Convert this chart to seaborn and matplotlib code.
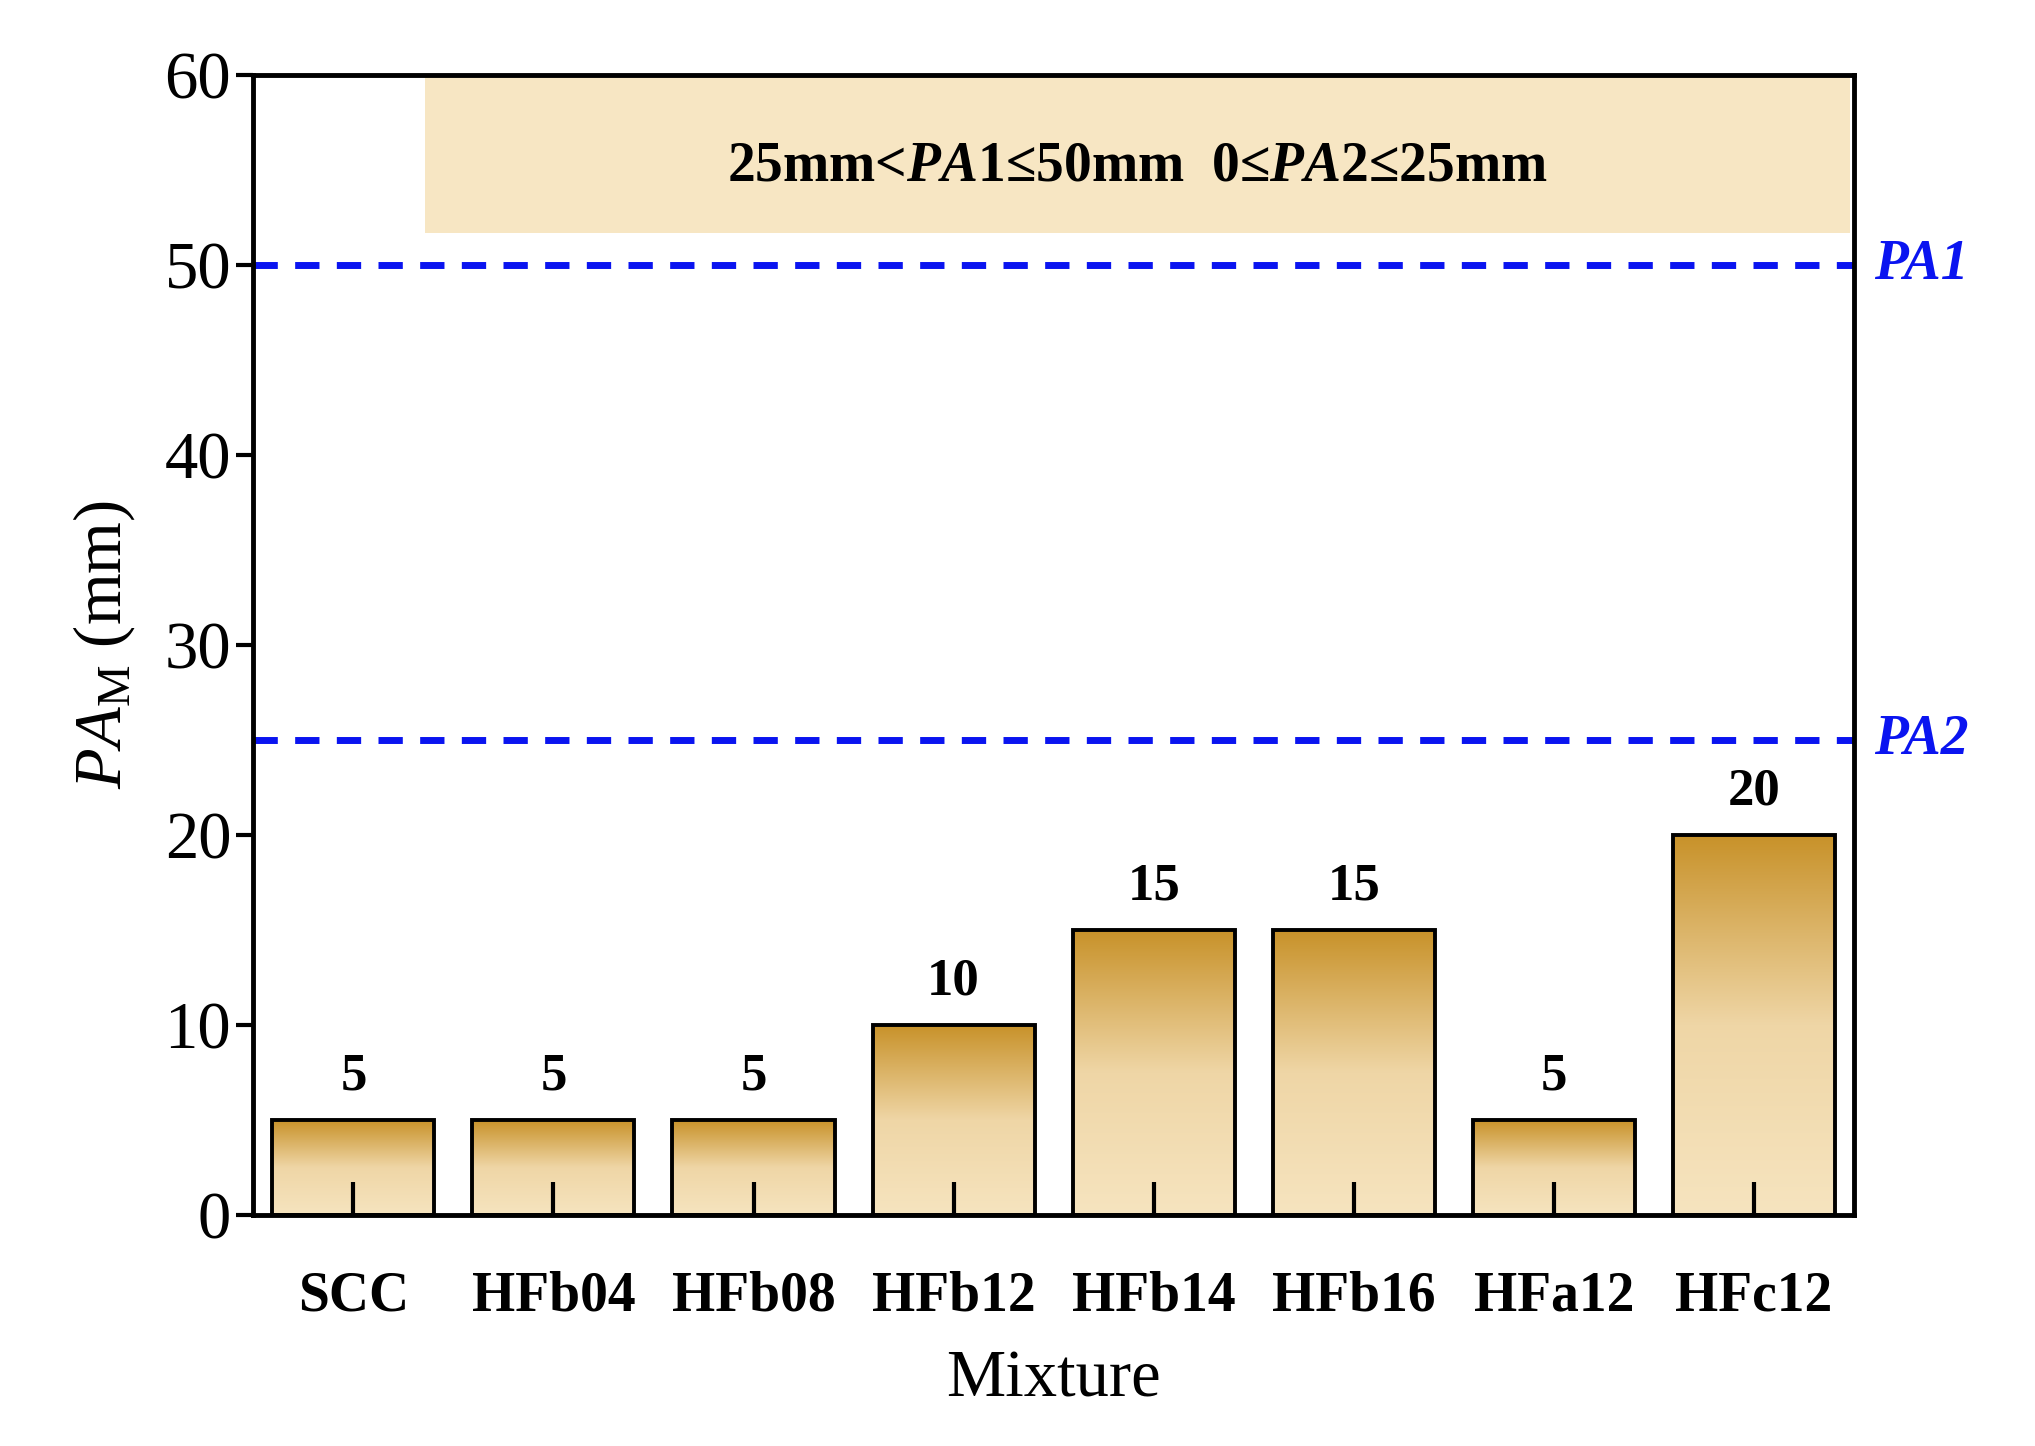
import numpy as np
import pandas as pd
import matplotlib
matplotlib.use("Agg")
import matplotlib.pyplot as plt
import seaborn as sns
from matplotlib.colors import LinearSegmentedColormap
from matplotlib.patches import Rectangle

mixtures = ["SCC", "HFb04", "HFb08", "HFb12", "HFb14", "HFb16", "HFa12", "HFc12"]
pa_values = [5, 5, 5, 10, 15, 15, 5, 20]
pa1_limit = 50
pa2_limit = 25

sns.set_style("ticks")
plt.rcParams['font.family'] = ['Liberation Serif', 'DejaVu Serif']
plt.rcParams['text.color'] = 'black'
plt.rcParams['axes.labelcolor'] = 'black'
plt.rcParams['xtick.color'] = 'black'
plt.rcParams['ytick.color'] = 'black'
plt.rcParams['axes.edgecolor'] = 'black'
plt.rcParams['mathtext.fontset'] = 'custom'
plt.rcParams['mathtext.it'] = 'Liberation Serif:bold:italic'
plt.rcParams['mathtext.rm'] = 'Liberation Serif:bold'
plt.rcParams['mathtext.sf'] = 'Liberation Serif:italic'
plt.rcParams['mathtext.tt'] = 'Liberation Serif'

df = pd.DataFrame({"Mixture": mixtures, "PA": pa_values})

fig = plt.figure(figsize=(20.35, 14.46), dpi=100)
ax = fig.add_axes([0.1245, 0.16, 0.7865, 0.788])

sns.barplot(data=df, x="Mixture", y="PA", ax=ax, width=0.81,
            facecolor="none", edgecolor="black", linewidth=2.8, zorder=3)

cmap = LinearSegmentedColormap.from_list("gold", ["#F6E4BF", "#EFD6A6", "#C8922A"])
grad = np.linspace(0, 1, 256).reshape(-1, 1)
for patch in list(ax.patches):
    x0, y0 = patch.get_x(), patch.get_y()
    w, h = patch.get_width(), patch.get_height()
    im = ax.imshow(grad, cmap=cmap, aspect="auto", origin="lower",
                   extent=[x0, x0 + w, y0, y0 + h], zorder=2)
    im.set_clip_path(patch)
    ax.text(x0 + w / 2, h + 1.0, f"{h:g}", ha="center", va="bottom",
            fontsize=38, fontweight="bold")

ax.set_xlim(-0.5, 7.5)
ax.set_ylim(0, 60)
ax.set_aspect("auto")

# condition box
ax.add_patch(Rectangle((0.36, 51.7), 7.12, 8.3, facecolor="#F7E6C3",
                       edgecolor="none", zorder=1))
ax.text(3.92, 55.2, r"25mm<$PA$1≤50mm  0≤$PA$2≤25mm", ha="center", va="center",
        fontsize=40, fontweight="bold")

for lim, lab in [(pa1_limit, "PA1"), (pa2_limit, "PA2")]:
    ax.axhline(lim, color="#0A14F0", linestyle=(0, (3.5, 2.5)), linewidth=5, zorder=1)
    ax.text(7.6, lim, lab, color="#0A14F0", fontsize=40, fontweight="bold",
            fontstyle="italic", va="center", ha="left")

for s in ax.spines.values():
    s.set_linewidth(3.5)
ax.xaxis.set_zorder(5)
ax.set_yticks(range(0, 61, 10))
ax.tick_params(axis="y", direction="out", length=12, width=3, labelsize=48, pad=4)
ax.tick_params(axis="x", direction="in", length=24, width=3, pad=40)
for lbl in ax.get_xticklabels():
    lbl.set_fontsize(40)
    lbl.set_fontweight("bold")

ax.set_xlabel("Mixture", fontsize=48, labelpad=20)
ax.set_ylabel(r"$\mathsf{PA}_{\mathtt{M}}$ (mm)", fontsize=48, labelpad=20)

fig.savefig("out.png", dpi=100)
